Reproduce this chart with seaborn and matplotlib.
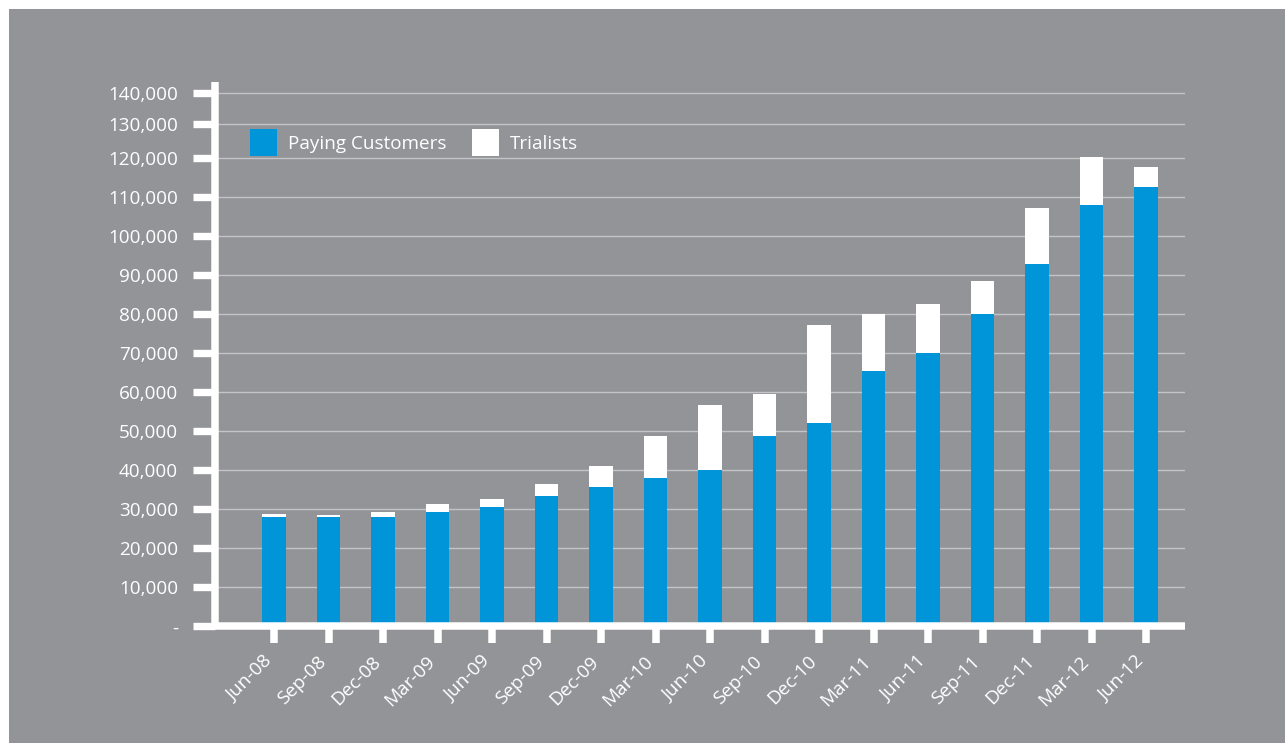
import numpy as np
import pandas as pd
import matplotlib
matplotlib.use("Agg")
import matplotlib.pyplot as plt
import matplotlib.transforms as mtransforms
from matplotlib.patches import Rectangle
import seaborn as sns

# ---------------- data ----------------
quarters = ["Jun-08", "Sep-08", "Dec-08", "Mar-09", "Jun-09", "Sep-09", "Dec-09",
            "Mar-10", "Jun-10", "Sep-10", "Dec-10", "Mar-11", "Jun-11", "Sep-11",
            "Dec-11", "Mar-12", "Jun-12"]
paying = [28000, 28000, 28000, 29300, 30600, 33400, 35700, 38000, 40100, 48800,
          52100, 65500, 70100, 80100, 92900, 108000, 112600]
trialists = [800, 500, 1300, 2100, 2000, 3100, 5400, 10800, 16600, 10800,
             25200, 14600, 12500, 8400, 14400, 12300, 5200]
y_ticks = [0, 10000, 20000, 30000, 40000, 50000, 60000, 70000, 80000, 90000,
           100000, 110000, 120000, 130000, 140000]
y_tick_labels = ["-", "10,000", "20,000", "30,000", "40,000", "50,000", "60,000",
                 "70,000", "80,000", "90,000", "100,000", "110,000", "120,000",
                 "130,000", "140,000"]

df = pd.DataFrame({"quarter": quarters, "paying": paying, "trialists": trialists})
df["total"] = df["paying"] + df["trialists"]

# ---------------- style ----------------
BG = "#939498"
BLUE = "#0095D8"
GRID = "#c3c4c7"
W, H = 1285, 743

plt.rcParams["font.family"] = ["Open Sans", "DejaVu Sans"]
FS = 13.6

fig = plt.figure(figsize=(W / 100, H / 100), dpi=100, facecolor="white")
fig.patches.append(Rectangle((9 / W, 0), 1 - 9 / W, 1 - 9 / H, transform=fig.transFigure,
                             facecolor=BG, edgecolor="none", zorder=-10))

zero_px, top_px = 626.3, 82.0
left_px, right_px = 215.3, 1185.0
ax = fig.add_axes([left_px / W, 1 - zero_px / H, (right_px - left_px) / W, (zero_px - top_px) / H])
ax.set_facecolor("none")

sns.barplot(data=df, x="quarter", y="total", color="white", saturation=1, width=0.44,
            edgecolor="none", linewidth=0, label="Trialists", ax=ax, zorder=3)
sns.barplot(data=df, x="quarter", y="paying", color=BLUE, saturation=1, width=0.44,
            edgecolor="none", linewidth=0, label="Paying Customers", ax=ax, zorder=4)
if ax.get_legend() is not None:
    ax.get_legend().remove()

# compressed upper part of the value axis, as in the reference
xk = np.array([-1e6, 0, 120000, 130000, 140000, 1e6])
yk = np.array([-1e6, 0, 120000, 128718, 136667, 136667 + 860000 * 0.7949])
fwd = lambda v: np.interp(v, xk, yk)
inv = lambda t: np.interp(t, yk, xk)
ax.set_yscale("function", functions=(fwd, inv))
ax.set_ylim(0, float(inv((zero_px - top_px) / 39.0 * 10000)))

bar_step = 54.5
x0 = 274.0
ax.set_xlim((left_px - x0) / bar_step, (right_px - x0) / bar_step)

ax.set_yticks(y_ticks)
ax.set_yticklabels(y_tick_labels)
ax.yaxis.set_minor_locator(matplotlib.ticker.NullLocator())
ax.set_xlabel("")
ax.set_ylabel("")

for s in ["top", "right"]:
    ax.spines[s].set_visible(False)
for s in ["left", "bottom"]:
    ax.spines[s].set_color("white")
    ax.spines[s].set_linewidth(5.4)
    ax.spines[s].set_zorder(6)
    ax.spines[s].set_capstyle("butt")

ax.tick_params(axis="y", direction="out", length=15.8, width=5.3, color="white",
               labelcolor="white", labelsize=FS, pad=11)
ax.tick_params(axis="x", direction="out", length=12.3, width=5.4, color="white",
               labelcolor="white", labelsize=FS, pad=11)
shift = mtransforms.ScaledTranslation(-5 / 100, 0, fig.dpi_scale_trans)
for lab in ax.get_xticklabels():
    lab.set_rotation(45)
    lab.set_ha("right")
    lab.set_va("center")
    lab.set_rotation_mode("anchor")
    lab.set_transform(lab.get_transform() + shift)

ax.grid(False)
for v in y_ticks[1:]:
    ax.axhline(v, color=GRID, linewidth=1.0, zorder=1)

h, l = ax.get_legend_handles_labels()
order = [l.index("Paying Customers"), l.index("Trialists")]
leg = fig.legend([h[i] for i in order], [l[i] for i in order], loc="upper left",
                 bbox_to_anchor=(250 / W, 1 - 129 / H), ncol=2, frameon=False,
                 fontsize=FS, borderpad=0, borderaxespad=0, handlelength=1.45,
                 handleheight=1.85, handletextpad=0.55, columnspacing=1.35,
                 labelcolor="white")

fig.savefig("out.png", dpi=100, facecolor="white")
